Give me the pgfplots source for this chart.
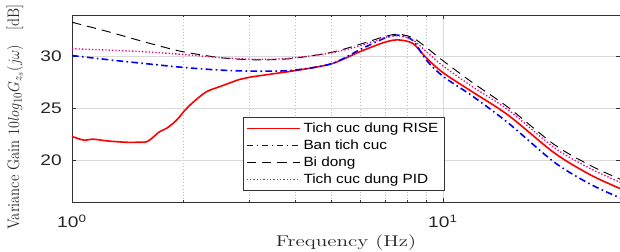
\documentclass[border=0pt]{standalone}
\usepackage{fontspec}
\usepackage{graphicx}
\usepackage{pgfplots}
\pgfplotsset{compat=1.18}
\usetikzlibrary{calc}
\newfontfamily\arial{Liberation Sans}

\begin{document}
\begin{tikzpicture}
\begin{axis}[
  name=ax,
  scale only axis,
  width=411pt, height=140.25pt,
  xmode=log,
  xmin=1, xmax=30,
  ymin=16, ymax=34,
  xtick={1,10}, xticklabels={10\textsuperscript{0},10\textsuperscript{1}},
  ytick={20,25,30}, yticklabels={20,25,30},
  grid=both,
  major grid style={gray!30, line width=0.4pt},
  minor grid style={gray!50, dotted, line width=0.4pt},
  tick align=inside,
  major tick length=3pt, minor tick length=1.8pt,
  every tick/.style={black!80, line width=0.5pt},
  axis line style={black!80, line width=0.6pt},
  tick label style={font=\arial\fontsize{11.5}{12}\selectfont, inner sep=0pt, text=black!85},
  xticklabel style={anchor=base, yshift=-19.5pt, xscale=1.25},
  yticklabel style={anchor=east, xshift=-7.5pt, xscale=1.25},
  xlabel={\scalebox{1.36}[1]{Frequency (Hz)}},
  xlabel style={at={(axis description cs:0.5,-0.2406)}, anchor=base, font=\fontsize{11.7}{14}\selectfont, text=black!85},
  ylabel={\scalebox{0.88}[1]{Variance Gain $10log_{10}G_{z_s}(j\omega)$\quad[dB]}},
  ylabel style={at={(axis description cs:-0.104,0.455)}, anchor=center, font=\fontsize{12.5}{14}\selectfont, text=black!85},
  legend style={at={(0.312,0.455)}, anchor=north west, font=\arial\fontsize{10}{11}\selectfont, draw=black!80, fill=white, inner sep=2pt, row sep=0pt, cells={anchor=west}},
  legend cell align=left,
  legend image code/.code={\draw[#1] (0pt,0pt) -- (40pt,0pt);},
]
\addplot[red, line width=1.2pt, smooth] table {
1 22.3
1.04 22.1
1.08 21.95
1.14 22.05
1.2 21.95
1.27 21.85
1.4 21.75
1.5 21.75
1.59 21.8
1.65 22.2
1.72 22.75
1.8 23.1
1.87 23.55
1.94 24.1
2 24.7
2.12 25.6
2.3 26.6
2.5 27.1
2.83 27.8
3 28.0
3.5 28.35
4 28.65
5 29.3
6 30.5
7 31.4
7.6 31.6
8.3 31.25
9 29.9
10 28.45
12 26.6
15 24.35
20 20.7
25 18.6
30 17.3
};
\addlegendentry{\scalebox{1.15}[1]{Tich cuc dung RISE}}
\addplot[blue, line width=1.2pt, dash pattern=on 5pt off 2.5pt on 1.2pt off 2.5pt, smooth] table {
1 30.1
1.25 29.7
1.5 29.4
2 28.95
2.5 28.7
3 28.6
3.5 28.6
4 28.7
5 29.3
6 30.7
7 31.8
7.6 32.05
8.3 31.55
9 29.7
10 28.1
12 26.2
15 23.6
20 19.8
25 17.7
30 16.4
};
\addlegendentry{\scalebox{1.15}[1]{Ban tich cuc}}
\addplot[black, line width=0.7pt, dash pattern=on 7pt off 4.5pt, smooth] table {
1 33.3
1.25 32.4
1.5 31.6
1.75 30.95
2 30.45
2.5 29.9
3 29.7
3.5 29.7
4 29.85
5 30.4
6 31.2
7 31.95
7.6 32.15
8.3 31.8
9 30.9
10 29.6
12 27.5
15 25.1
20 21.5
25 19.5
30 18.2
};
\addlegendentry{\scalebox{1.15}[1]{Bi dong}}
\addplot[magenta, line width=1pt, dash pattern=on 1pt off 1.5pt, smooth] table {
1 30.75
1.5 30.5
2 30.2
2.5 29.9
3 29.75
3.5 29.75
4 29.9
5 30.35
6 31.05
7 31.85
7.6 32.0
8.3 31.6
9 30.5
10 29.1
12 27.1
15 24.85
20 21.2
25 19.2
30 17.9
};
\addlegendentry{\scalebox{1.15}[1]{Tich cuc dung PID}}
\end{axis}
\pgfresetboundingbox
\path[use as bounding box] ($(ax.south west)+(-54pt,-37.5pt)$) rectangle ($(ax.north east)+(0pt,11.25pt)$);
\end{tikzpicture}
\end{document}
